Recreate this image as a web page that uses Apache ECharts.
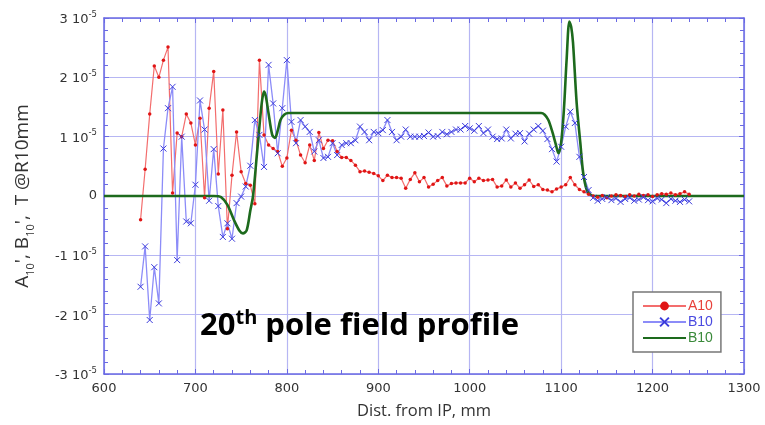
<!DOCTYPE html>
<html>
<head>
<meta charset="utf-8">
<script src="https://cdn.jsdelivr.net/npm/echarts@6/dist/echarts.min.js"></script>
<style>
html,body{margin:0;padding:0;background:#fff;}
#chart{width:765px;height:425px;}
</style>
</head>
<body>
<div id="chart"></div>
<script>
// Distance from IP (mm) for the measured A10 / B10 points
const distance = [
  640,645,650,655,660,665,670,675,680,685,
  690,695,700,705,710,715,720,725,730,735,
  740,745,750,755,760,765,770,775,780,785,
  790,795,800,805,810,815,820,825,830,835,
  840,845,850,855,860,865,870,875,880,885,
  890,895,900,905,910,915,920,925,930,935,
  940,945,950,955,960,965,970,975,980,985,
  990,995,1000,1005,1010,1015,1020,1025,1030,1035,
  1040,1045,1050,1055,1060,1065,1070,1075,1080,1085,
  1090,1095,1100,1105,1110,1115,1120,1125,1130,1135,
  1140,1145,1150,1155,1160,1165,1170,1175,1180,1185,
  1190,1195,1200,1205,1210,1215,1220,1225,1230,1235,
  1240
];
// values in units of 1e-5 T @R10mm
const a10 = [
  -0.40,0.45,1.38,2.19,2.0,2.29,2.51,0.05,1.06,1.0,
  1.38,1.23,0.86,1.31,-0.03,1.48,2.1,0.37,1.45,-0.55,
  0.35,1.08,0.41,0.21,0.18,-0.13,2.29,1.03,0.86,0.8,
  0.75,0.5,0.64,1.11,0.94,0.69,0.56,0.86,0.6,1.07,
  0.8,0.94,0.93,0.75,0.65,0.65,0.6,0.52,0.41,0.42,
  0.4,0.38,0.34,0.26,0.35,0.31,0.31,0.3,0.13,0.28,
  0.39,0.24,0.31,0.15,0.2,0.26,0.31,0.17,0.21,0.22,
  0.22,0.22,0.3,0.24,0.3,0.26,0.27,0.28,0.15,0.17,
  0.27,0.15,0.22,0.13,0.19,0.27,0.16,0.19,0.11,0.1,
  0.07,0.12,0.15,0.19,0.31,0.19,0.11,0.07,0.03,0.0,
  -0.02,0.01,-0.03,0.0,0.02,0.01,-0.01,0.02,0.0,0.03,
  0.01,0.02,-0.01,0.02,0.04,0.03,0.05,0.02,0.04,0.07,
  0.03
];
const b10 = [
  -1.53,-0.85,-2.09,-1.2,-1.81,0.8,1.48,1.84,-1.08,1.0,
  -0.43,-0.46,0.19,1.61,1.12,-0.08,0.79,-0.17,-0.69,-0.46,
  -0.72,-0.12,-0.01,0.16,0.51,1.28,1.03,0.49,2.21,1.56,
  0.72,1.48,2.29,1.25,0.89,1.28,1.17,1.08,0.75,0.94,
  0.64,0.66,0.89,0.69,0.86,0.89,0.89,0.94,1.17,1.08,
  0.94,1.08,1.06,1.11,1.28,1.08,0.94,1.0,1.12,1.0,
  1.0,1.0,1.01,1.07,1.0,1.01,1.08,1.04,1.08,1.12,
  1.12,1.18,1.14,1.1,1.18,1.06,1.12,1.0,0.96,0.97,
  1.12,0.97,1.05,1.06,0.92,1.05,1.12,1.18,1.1,0.96,
  0.79,0.58,0.83,1.17,1.42,1.23,0.66,0.32,0.1,-0.03,
  -0.08,-0.05,-0.02,-0.07,-0.04,-0.1,-0.05,-0.03,-0.08,-0.06,
  -0.02,-0.07,-0.09,-0.04,-0.06,-0.12,-0.05,-0.08,-0.1,-0.06,
  -0.09
];
// smooth model curve (green B10)
const modelX = [600,720,728,735,742,748,752,756,760,763,767,771,773,775,777,780,784,787,790,793,797,802,
  1078,1082,1086,1090,1094,1097,1100,1103,1106,1109,1111,1113,1117,1121,1124,1128,1132,1136,1300];
const modelY = [0,0,-0.02,-0.15,-0.4,-0.58,-0.63,-0.58,-0.25,0,0.66,1.34,1.62,1.76,1.68,1.39,1.03,0.98,1.1,1.28,1.37,1.4,
  1.4,1.37,1.28,1.1,0.88,0.72,0.9,1.45,2.3,2.94,2.85,2.58,1.56,0.89,0.4,0.1,0.02,0,0];

const xTicks = [600,700,800,900,1000,1100,1200,1300];
const yTicks = [-3,-2,-1,0,1,2,3];

const pair = (xs, ys) => xs.map((x, i) => [x, ys[i]]);

const axisBlue = '#6a6ae4';
const gridBlue = '#b6b6f3';

const chart = echarts.init(document.getElementById('chart'), null, {renderer: 'canvas'});
const option = {
  animation: false,
  backgroundColor: '#fff',
  grid: {left: 104, right: 21, top: 18, bottom: 51, containLabel: false},
  xAxis: [{
    type: 'value', min: xTicks[0], max: xTicks[xTicks.length - 1], interval: 100,
    axisLine: {onZero: false, lineStyle: {color: axisBlue, width: 1.5}},
    axisTick: {inside: true, length: 5, lineStyle: {color: axisBlue}},
    minorTick: {show: true, splitNumber: 5, length: 4, lineStyle: {color: axisBlue}},
    splitLine: {show: true, lineStyle: {color: gridBlue, width: 1.2}},
    axisLabel: {color: '#333', fontFamily: 'DejaVu Sans', fontSize: 13, margin: 8, formatter: v => String(v)},
    name: 'Dist. from IP, mm', nameLocation: 'middle', nameGap: 29,
    nameTextStyle: {color: '#333', fontFamily: 'Open Sans', fontSize: 16.5}
  }, {
    type: 'value', position: 'top', min: xTicks[0], max: xTicks[xTicks.length - 1], interval: 100,
    axisLine: {onZero: false, lineStyle: {color: axisBlue, width: 1.5}},
    axisTick: {inside: true, length: 5, lineStyle: {color: axisBlue}},
    minorTick: {show: true, splitNumber: 5, length: 4, lineStyle: {color: axisBlue}},
    splitLine: {show: false}, axisLabel: {show: false}
  }],
  yAxis: [{
    type: 'value', min: yTicks[0], max: yTicks[yTicks.length - 1], interval: 1,
    axisLine: {onZero: false, lineStyle: {color: axisBlue, width: 1.5}},
    axisTick: {inside: true, length: 5, lineStyle: {color: axisBlue}},
    minorTick: {show: true, splitNumber: 5, length: 4, lineStyle: {color: axisBlue}},
    splitLine: {show: true, lineStyle: {color: gridBlue, width: 1.2}},
    axisLabel: {
      margin: 7,
      formatter: v => v === 0 ? '{n|0}' : '{n|' + v + ' 10}{e|-5}',
      rich: {
        n: {color: '#333', fontFamily: 'DejaVu Sans', fontSize: 13, verticalAlign: 'bottom'},
        e: {color: '#333', fontFamily: 'DejaVu Sans', fontSize: 8.5, verticalAlign: 'bottom', padding: [0, 0, 7, 0]}
      }
    },
    name: "{t|A}{s|10}{t|', B}{s|10}{t|',  T @R10mm}",
    nameLocation: 'middle', nameRotate: 90, nameGap: 68,
    nameTextStyle: {
      rich: {
        t: {color: '#333', fontFamily: 'Open Sans', fontSize: 19, verticalAlign: 'bottom', padding: [0, 0, 4, 0]},
        s: {color: '#333', fontFamily: 'Open Sans', fontSize: 11, verticalAlign: 'bottom'}
      }
    }
  }, {
    type: 'value', position: 'right', min: yTicks[0], max: yTicks[yTicks.length - 1], interval: 1,
    axisLine: {onZero: false, lineStyle: {color: axisBlue, width: 1.5}},
    axisTick: {inside: true, length: 5, lineStyle: {color: axisBlue}},
    minorTick: {show: true, splitNumber: 5, length: 4, lineStyle: {color: axisBlue}},
    splitLine: {show: false}, axisLabel: {show: false}
  }],
  legend: {
    orient: 'vertical', left: 633, top: 292,
    backgroundColor: '#fff', borderColor: '#777', borderWidth: 1.5, borderRadius: 0,
    padding: [7, 8, 7, 9], itemWidth: 43, itemHeight: 11, itemGap: 2,
    textStyle: {fontFamily: 'Liberation Sans', fontSize: 14, padding: [0, 0, 0, -3]},
    formatter: name => name === 'B10 model' ? 'B10' : name,
    data: [
      {name: 'A10', textStyle: {color: '#e8403a'}},
      {name: 'B10', textStyle: {color: '#4a4ae0'}},
      {name: 'B10 model', textStyle: {color: '#3a8a3a'}, itemStyle: {opacity: 0}}
    ]
  },
  series: [{
    name: 'A10', type: 'line', data: pair(distance, a10),
    symbol: 'circle', symbolSize: 3.5, showAllSymbol: true,
    lineStyle: {color: '#f36d6d', width: 1.2},
    itemStyle: {color: '#e01515'}
  }, {
    name: 'B10', type: 'line', data: pair(distance, b10),
    symbol: 'path://M0,0L10,10M10,0L0,10', symbolSize: 6, showAllSymbol: true,
    lineStyle: {color: '#8c8cf8', width: 1.3},
    itemStyle: {color: 'rgba(0,0,0,0)', borderColor: '#3c3cdc', borderWidth: 1}
  }, {
    name: 'B10 model', type: 'line', data: pair(modelX, modelY),
    symbol: 'none', smooth: 0.3,
    lineStyle: {color: '#1d6a1d', width: 2.6},
    itemStyle: {color: '#1d6a1d'}
  }],
  graphic: [{
    type: 'text', left: 200, top: 308, z: 100,
    style: {
      text: '{a|20}{b|th}{a| pole field profile}',
      rich: {
        a: {fontFamily: 'Open Sans', fontWeight: 'bold', fontSize: 31, fill: '#000', verticalAlign: 'bottom'},
        b: {fontFamily: 'Open Sans', fontWeight: 'bold', fontSize: 20, fill: '#000', verticalAlign: 'bottom', padding: [0, 0, 14, 0]}
      }
    }
  }]
};
chart.setOption(option);
</script>
</body>
</html>
